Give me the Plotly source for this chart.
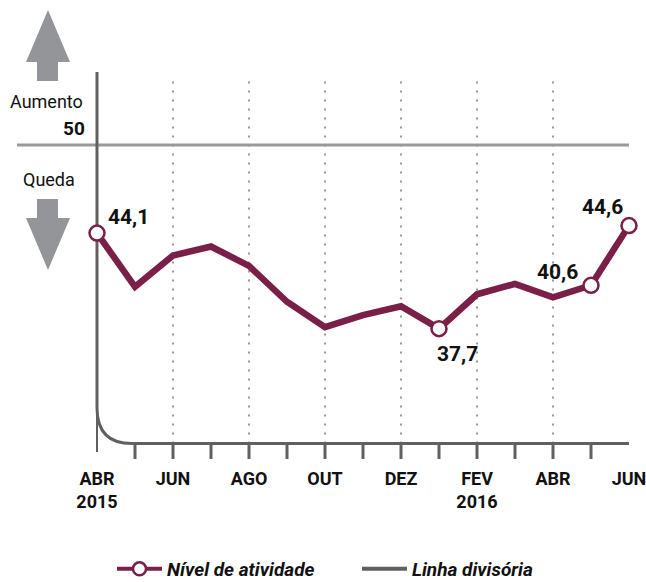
import plotly.graph_objects as go

# ---------------- data ----------------
months = ["ABR", "MAI", "JUN", "JUL", "AGO", "SET", "OUT", "NOV",
          "DEZ", "JAN", "FEV", "MAR", "ABR", "MAI", "JUN"]
values = [44.1, 40.5, 42.6, 43.2, 41.9, 39.5, 37.8, 38.6,
          39.2, 37.7, 40.0, 40.7, 39.8, 40.6, 44.6]
tick_idx = [0, 2, 4, 6, 8, 10, 12, 14]
tick_labels = ["ABR<br>2015", "JUN", "AGO", "OUT", "DEZ", "FEV<br>2016", "ABR", "JUN"]
highlight_idx = [0, 9, 13, 14]
divider_value = 50
axis_base = 30

x_idx = list(range(len(months)))

# ---------------- styling ----------------
OFF = 0                      # page body margin is removed by post_script
W, H = 646 - OFF, 582 - OFF
MAROON = "#7a1f47"
GRAY_L = "#9a9a9a"
GRAY_D = "#606060"
ARROW = "#939598"
FONT = "Roboto, Liberation Sans, sans-serif"

# pixel calibration of the frame (reference-window pixels)
X0_PX, PX_PER_MONTH = 97, 38
Y50_PX, PX_PER_UNIT = 145, 14.93
x_range = [-(X0_PX - OFF) / PX_PER_MONTH, (W - (X0_PX - OFF)) / PX_PER_MONTH]
y_range = [50 - (H - (Y50_PX - OFF)) / PX_PER_UNIT, 50 + (Y50_PX - OFF) / PX_PER_UNIT]


def pxx(x):
    return (x - OFF) / W


def pxy(y):
    return 1 - (y - OFF) / H


def y_of_px(y):
    return 50 - (y - Y50_PX) / PX_PER_UNIT


def x_of_px(x):
    return (x - X0_PX) / PX_PER_MONTH


top_val = y_of_px(72)
grid_top = y_of_px(78)

fig = go.Figure()

# main line
fig.add_trace(go.Scatter(
    x=x_idx, y=values, mode="lines",
    line=dict(color=MAROON, width=6.5),
    showlegend=False, hoverinfo="skip"))

# highlighted markers
fig.add_trace(go.Scatter(
    x=[x_idx[i] for i in highlight_idx], y=[values[i] for i in highlight_idx],
    mode="markers",
    marker=dict(size=15, color="white", line=dict(color=MAROON, width=2.5)),
    showlegend=False, hoverinfo="skip"))

# legend entries
fig.add_trace(go.Scatter(
    x=[None], y=[None], mode="lines+markers", name="Nível de atividade",
    line=dict(color=MAROON, width=4),
    marker=dict(size=13, color="white", line=dict(color=MAROON, width=2.5))))
fig.add_trace(go.Scatter(
    x=[None], y=[None], mode="lines", name="Linha divisória",
    line=dict(color=GRAY_D, width=4)))

shapes = []
# dotted grid lines
for i in tick_idx[1:-1]:
    shapes.append(dict(type="line", xref="x", yref="y", x0=i, x1=i,
                       y0=axis_base, y1=grid_top,
                       line=dict(color=GRAY_L, width=2, dash="2px,7px"),
                       layer="below"))
# divider line at 50
shapes.append(dict(type="line", xref="x", yref="y", x0=x_of_px(17), x1=x_idx[-1],
                   y0=divider_value, y1=divider_value,
                   line=dict(color=GRAY_L, width=3), layer="below"))
# curved axis
curve_start = y_of_px(408)
knee = x_of_px(132)
shapes.append(dict(type="path", xref="x", yref="y",
                   path=f"M 0,{top_val} L 0,{curve_start} Q 0,{axis_base} {knee},{axis_base} L {x_idx[-1]},{axis_base}",
                   line=dict(color=GRAY_D, width=3), layer="below"))
shapes.append(dict(type="line", xref="x", yref="y", x0=0, x1=0,
                   y0=curve_start, y1=y_of_px(452),
                   line=dict(color=GRAY_D, width=2), layer="below"))
# tick marks
for i in x_idx[1:-1]:
    shapes.append(dict(type="line", xref="x", yref="y", x0=i, x1=i,
                       y0=axis_base, y1=y_of_px(459),
                       line=dict(color=GRAY_D, width=3), layer="below"))


# arrows (pixel-space decoration)
def arrow_path(pts):
    return "M " + " L ".join(f"{pxx(a)},{pxy(b)}" for a, b in pts) + " Z"


up = [(48, 10), (70, 62), (58, 62), (58, 81), (37, 81), (37, 62), (26, 62)]
down = [(37, 199), (58, 199), (58, 218), (70, 218), (48, 270), (26, 218), (37, 218)]
for pts in (up, down):
    shapes.append(dict(type="path", xref="paper", yref="paper",
                       path=arrow_path(pts), fillcolor=ARROW,
                       line=dict(width=0)))

annotations = [
    dict(xref="paper", yref="paper", x=pxx(47), y=pxy(101), text="Aumento",
         xanchor="center", yanchor="middle",
         showarrow=False, font=dict(family=FONT, size=18, color="#111")),
    dict(xref="paper", yref="paper", x=pxx(87), y=pxy(128), text="<b>50</b>",
         xanchor="right", yanchor="middle",
         showarrow=False, font=dict(family=FONT, size=19, color="#111")),
    dict(xref="paper", yref="paper", x=pxx(49), y=pxy(179), text="Queda",
         xanchor="center", yanchor="middle",
         showarrow=False, font=dict(family=FONT, size=18, color="#111")),
]
# value labels
label_offsets = {0: (31, -16), 9: (18, 25), 13: (-34, -13), 14: (-27, -19)}
for i in highlight_idx:
    dx, dy = label_offsets[i]
    annotations.append(dict(
        x=x_idx[i], y=values[i], xref="x", yref="y",
        text="<b>" + f"{values[i]:.1f}".replace(".", ",") + "</b>",
        showarrow=False, xshift=dx, yshift=-dy,
        xanchor="center", yanchor="middle",
        font=dict(family=FONT, size=21, color="#111")))

fig.update_layout(
    width=W, height=H,
    margin=dict(l=0, r=0, t=0, b=0, autoexpand=False),
    paper_bgcolor="white", plot_bgcolor="white",
    xaxis=dict(range=x_range, anchor="free", position=pxy(443),
               showgrid=False, zeroline=False, showline=False,
               tickmode="array", tickvals=tick_idx, ticktext=tick_labels,
               ticks="", ticklabelstandoff=23, ticklabeloverflow="allow",
               tickfont=dict(family=FONT, size=18, color="#111", weight="bold")),
    yaxis=dict(range=y_range, visible=False),
    shapes=shapes, annotations=annotations,
    legend=dict(orientation="h", x=pxx(112), xanchor="left",
                y=pxy(569), yanchor="middle", bgcolor="rgba(0,0,0,0)",
                itemwidth=45, entrywidth=185, entrywidthmode="pixels",
                font=dict(family=FONT, size=19, color="#111",
                          weight="bold", style="italic")),
    showlegend=True,
)

fig.write_html("out.html",
               config={"displayModeBar": False},
               post_script="document.body.style.margin='0';document.body.style.overflow='hidden';")
